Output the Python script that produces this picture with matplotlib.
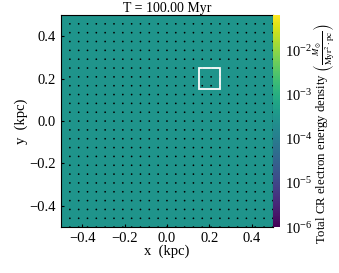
import numpy as np
import matplotlib
matplotlib.use("Agg")
import matplotlib.pyplot as plt
from matplotlib.colors import LogNorm
from matplotlib.patches import Rectangle

# chart data
time_myr = 100.00
extent_kpc = [-0.5, 0.5, -0.5, 0.5]
density_value = 3e-4          # field is uniform across the box
density_range = [1e-6, 6.3e-2]
n_cells = 24
quiver_u = np.zeros((25, 25))  # velocities are ~0 -> drawn as dots
quiver_v = np.zeros((25, 25))
box_center = (0.2, 0.2)
box_size = 0.1
tick_values = [-0.4, -0.2, 0.0, 0.2, 0.4]

plt.rcParams["font.family"] = "Liberation Serif"
plt.rcParams["mathtext.fontset"] = "stix"
plt.rcParams["font.size"] = 10

fig = plt.figure(figsize=(3.39, 2.73), dpi=100)
ax = fig.add_axes([0.180, 0.168, 0.625, 0.777])
cax = fig.add_axes([0.805, 0.168, 0.021, 0.777])

density = np.full((n_cells, n_cells), density_value)
im = ax.imshow(density, origin="lower", extent=extent_kpc, cmap="viridis",
               norm=LogNorm(vmin=density_range[0], vmax=density_range[1]),
               interpolation="nearest", aspect="auto")

qx = np.linspace(extent_kpc[0], extent_kpc[1], quiver_u.shape[1])
qy = np.linspace(extent_kpc[2], extent_kpc[3], quiver_u.shape[0])
X, Y = np.meshgrid(qx, qy)
ax.quiver(X, Y, quiver_u, quiver_v, color="black", width=0.009, scale=1)

ax.add_patch(Rectangle((box_center[0] - box_size / 2, box_center[1] - box_size / 2),
                       box_size, box_size, fill=False, edgecolor="white", lw=1.3))

ax.set_xlim(extent_kpc[0], extent_kpc[1])
ax.set_ylim(extent_kpc[2], extent_kpc[3])
ax.set_xticks(tick_values)
ax.set_yticks(tick_values)
ax.tick_params(direction="in", length=2, labelsize=10.5)
ax.set_xlabel("x  (kpc)", fontsize=10.5, labelpad=0)
ax.set_ylabel("y  (kpc)", fontsize=10.5, labelpad=1)
ax.set_title(f"T = {time_myr:.2f} Myr", fontsize=10, pad=1)

cb = fig.colorbar(im, cax=cax)
cb.ax.tick_params(labelsize=10.5, which="both", length=0)
cb.outline.set_visible(False)
cb.set_label(r"Total CR electron energy density $\left(\frac{M_\odot}{\mathrm{Myr}^2\cdot\mathrm{pc}}\right)$",
             fontsize=9.2, labelpad=-1)
cb.ax.yaxis.label.set_y(0.44)

fig.savefig("out.png", dpi=100)
plt.close(fig)
